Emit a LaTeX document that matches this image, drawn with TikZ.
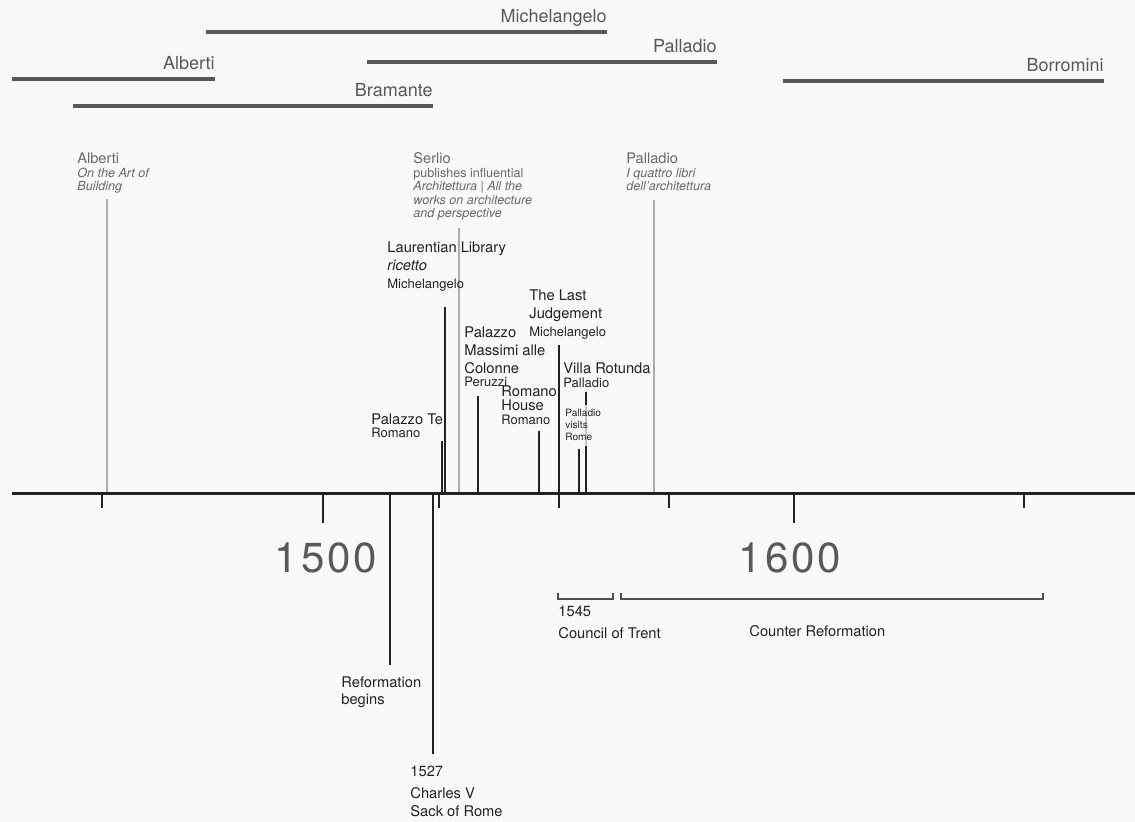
\documentclass[tikz,border=0pt]{standalone}
\usepackage{fontspec}
\setmainfont{TeX Gyre Heros}
\usepackage{tikz}
\usetikzlibrary{calc}
\definecolor{paper}{RGB}{250,249,247}
\definecolor{ink}{RGB}{34,34,34}
\definecolor{lead}{RGB}{88,88,88}
\definecolor{ash}{RGB}{104,104,104}
\definecolor{mist}{RGB}{172,172,172}
\tikzset{h/.style={font=\fontsize{9}{10}\selectfont, text=lead, inner sep=0pt, anchor=base east}}
\tikzset{l/.style={font=\fontsize{7.35}{9}\selectfont, text=ink, inner sep=0pt, align=left, anchor=base west}}
\tikzset{m/.style={font=\fontsize{6.3}{6.75}\selectfont, text=ash, inner sep=0pt, align=left, anchor=base west}}
\tikzset{s/.style={font=\fontsize{5.05}{6}\selectfont, text=ink, inner xsep=0pt, inner ysep=2.5pt, align=left, anchor=base west}}
\tikzset{yr/.style={font=\fontsize{21}{21}\selectfont, text=ink!75, inner sep=0pt, anchor=base}}
\tikzset{bar/.style={lead, line width=1.7pt}}
\tikzset{axis/.style={ink, line width=1.5pt}}
\tikzset{tick/.style={ink, line width=0.9pt}}
\tikzset{stem/.style={ink, line width=0.75pt}}
\tikzset{fade/.style={mist, line width=0.7pt}}
\tikzset{brk/.style={ink!80, line width=0.6pt}}
\newcommand{\sub}{\fontsize{6.5}{9}\selectfont}
\newcommand{\lifec}[5]{
  \coordinate (#1a) at (#2,#4);
  \coordinate (#1b) at (#3,#4);
  \draw[bar] (#1a) -- (#1b);
  \node[h] (#1) at (#3,#4-9) {#5};
}
\newcommand{\stemc}[4]{
  \coordinate (#1) at (#2,#3);
  \draw[#4] (#1) -- (#1 |- axL);
}
\begin{document}
\begin{tikzpicture}[x=0.5pt,y=-0.5pt]
    \fill[paper] (0,0) rectangle (1135,822);
    \useasboundingbox (0,0) rectangle (1135,822);
    % life spans
    \lifec{Mi}{206}{607}{32}{Michelangelo}
    \lifec{Pa}{367}{717}{62}{Palladio}
    \lifec{Al}{12}{215}{79}{Alberti}
    \lifec{Br}{73}{433}{106}{Bramante}
    \lifec{Bo}{783}{1104}{81}{Borromini}
    % axis
    \coordinate (axL) at (12,494);
    \coordinate (axR) at (1135,494);
    % stems above
    \stemc{Alb1}{107}{199}{fade}
    \stemc{Ser1}{459}{228}{fade}
    \stemc{Qua1}{654}{200}{fade}
    \stemc{Lau1}{445}{307}{stem}
    \stemc{Te1}{442}{441}{stem}
    \stemc{Mas1}{478}{396}{stem}
    \stemc{Rom1}{539}{431}{stem}
    \stemc{Jud1}{559}{345}{stem}
    \stemc{Vil1}{586}{392}{stem}
    \stemc{Vis1}{579}{449}{stem}
    % stems below
    \stemc{Ref1}{390}{665}{stem}
    \stemc{Sack1}{433}{754}{stem}
    \draw[axis] (axL) -- (axR);
    \foreach \t in {102,439,559,669,1024}
      \draw[tick] (\t,494) -- (\t,508);
    \foreach \t in {323,794}
      \draw[tick, line width=1.4pt] (\t,494) -- (\t,523);
    \node[yr] (D15) at (326,573) {1\kern1.5pt5\kern1.5pt0\kern1.5pt0};
    \node[yr] (D16) at (790,573) {1\kern1.5pt6\kern1.5pt0\kern1.5pt0};
    % treatises (anchored at last line)
    \node[m] (Alb) at (77,191) {{\fontsize{7.3}{6.75}\selectfont Alberti}\\
      \textit{On the Art of}\\\textit{Building}};
    \node[m] (Ser) at (413,218) {{\fontsize{7.3}{6.75}\selectfont Serlio}\\
      publishes influential\\\textit{Architettura | All the}\\
      \textit{works on architecture}\\\textit{and perspective}};
    \node[m] (Qua) at (626,191) {{\fontsize{7.3}{6.75}\selectfont Palladio}\\
      \textit{I quattro libri}\\\textit{dell'architettura}};
    % works
    \node[l] (Lau) at (387,289) {Laurentian Library\\\textit{ricetto}\\{\sub Michelangelo}};
    \node[l] (Jud) at (529,337) {The Last\\Judgement\\{\sub Michelangelo}};
    \node[l] (Mas) at (464,387) {Palazzo\\Massimi alle\\Colonne\\[-2.5pt]{\sub Peruzzi}};
    \node[l] (Vil) at (563,388) {Villa Rotunda\\[-2pt]{\sub Palladio}};
    \node[l] (Rom) at (501,425) {Romano\\[-2pt]House\\[-2pt]{\sub Romano}};
    \node[l] (Te) at (371,438) {Palazzo Te\\[-2.5pt]{\sub Romano}};
    \node[s, fill=paper, fill opacity=0.75, text opacity=1] (Vis) at (565,441)
      {Palladio\\visits\\Rome};
    % events
    \node[l] (Ref) at (341,705) {Reformation\\begins};
    \node[l] (Sack) at (410,816) {1527\\[2pt]Charles V\\Sack of Rome};
    \coordinate (Tr1) at (558,593);
    \coordinate (Tr2) at (613,593);
    \draw[brk] (Tr1) -- ++(0,6) -| (Tr2);
    \coordinate (Co1) at (621,593);
    \coordinate (Co2) at (1043,593);
    \draw[brk] (Co1) -- ++(0,6) -| (Co2);
    \node[l] (Trent) at (558,639) {1545\\[2pt]Council of Trent};
    \node[l] (Counter) at (749,637) {Counter Reformation};
  \end{tikzpicture}
\end{document}
